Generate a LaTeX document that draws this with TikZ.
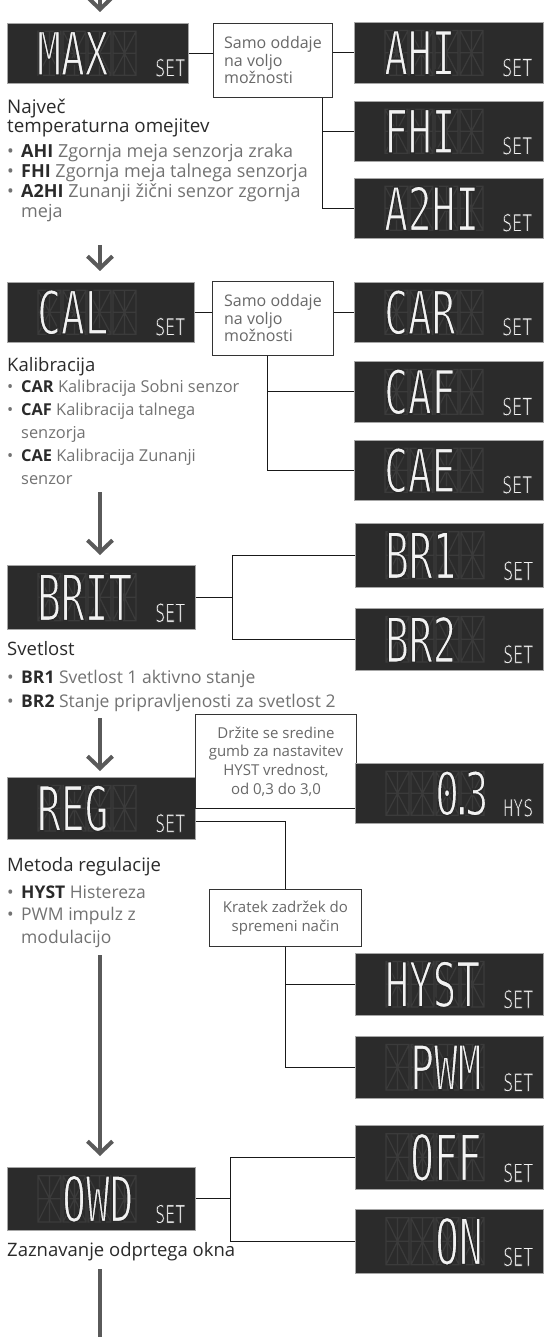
\documentclass[tikz,border=0pt]{standalone}
\usepackage{fontspec}
\setmainfont{Open Sans}
\newfontfamily\lcdfont{DejaVu Sans Mono}[FakeBold=2.8]
\usetikzlibrary{arrows.meta}

\definecolor{panel}{HTML}{2B2B2B}
\definecolor{ghostseg}{HTML}{3B3B3B}
\definecolor{segment}{HTML}{F2F2F2}
\definecolor{flowgray}{HTML}{5A5A5A}
\definecolor{headtext}{HTML}{2A2A2A}
\definecolor{bodytext}{HTML}{727272}
\definecolor{notetext}{HTML}{686868}

% thin the segments: stroke the glyph outlines in the panel colour
\newcommand{\thin}{\special{pdf:literal direct 0.169 0.169 0.169 RG}}

\tikzset{
  disp/.style={fill=panel, draw=gray!70, line width=0.6pt, inner sep=0},
  ghost/.style={draw=ghostseg, line width=1.2pt},
  lcd/.style={text=segment, inner sep=0, font=\lcdfont\fontsize{41.5}{41.5}\selectfont},
  lcdset/.style={text=segment, inner sep=0, font=\lcdfont\fontsize{16.6}{16.6}\selectfont},
  note/.style={draw=black!80, fill=white, text=notetext, inner sep=0, line width=0.9pt,
    anchor=north west, font=\fontsize{16}{17.5}\selectfont},
  link/.style={draw=black!90, line width=1.1pt},
  flow/.style={draw=flowgray, line width=4pt, -{Straight Barb[length=12pt,width=25pt]}},
  head/.style={text=headtext, inner sep=0, align=left, anchor=north west},
  desc/.style={text=bodytext, inner sep=0, align=left, anchor=north west},
}

\newcommand{\bul}{\makebox[14pt][l]{\textbullet}}
\newcommand{\ind}{\makebox[14pt]{}}
\newcommand{\code}[1]{\textbf{\color{headtext}#1}}

% name, left, top, width, height, first cell, text, label
\newcommand{\display}[8]{%
  \node[disp, minimum width=#4pt, minimum height=#5pt, anchor=north west] (#1) at (#2,#3) {};
  \begin{scope}[shift={(#1.west)}, yscale=#5/60, transform shape]
    \foreach \cell in {0,...,3} {
      \pgfmathsetmacro\gx{31+25*\cell}
      \draw[ghost] (\gx,-22) rectangle ++(23,44)
        (\gx,0) -- ++(23,0) (\gx+11.5,-22) -- ++(0,44)
        (\gx,-22) -- ++(23,44) (\gx+23,-22) -- ++(-23,44);
    }
    \node[lcd, xscale=0.95, yscale=1.45, anchor=west] (#1-txt) at ({5+25*#6},0) {\thin#7};
    \node[lcdset, yscale=1.45, anchor=west] (#1-set) at (148,14.5) {\thin#8};
  \end{scope}}

\begin{document}
\begin{tikzpicture}[x=1pt, y=-1pt]
\useasboundingbox (0,0) rectangle (544,1337);

% maximum limits
\coordinate (in) at (100,-30);
\display{max}{7}{23}{181}{60}{1}{MAX}{SET}
\draw[flow, shorten >=11pt] (in) -- (in |- max.north);
\node[note, align=left, minimum width=119pt, minimum height=74pt] (opt1) at (213,23)
  {Samo oddaje\\na voljo\\možnosti};
\display{ahi}{354}{22}{189}{61}{1}{AHI}{SET}
\display{fhi}{354}{101}{189}{60}{1}{FHI}{SET}
\display{a2hi}{354}{178}{189}{60}{1}{A2HI}{SET}
\draw[link] (max.east) -- (max.east -| opt1.west);
\draw[link] (opt1.east |- ahi.west) -- (ahi.west);
\draw[link] ([xshift=49.5pt]opt1.south) |- (fhi.west);
\draw[link] ([xshift=49.5pt]opt1.south) |- (a2hi.west);
\node[head, font=\fontsize{18.8}{17}\selectfont] (maxhead) at (7,98.7)
  {Največ\\temperaturna omejitev};
\node[desc, font=\fontsize{18}{20}\selectfont] (maxlist) at (7,143.3)
  {\bul\code{AHI} Zgornja meja senzorja zraka\\
   \bul\code{FHI} Zgornja meja talnega senzorja\\
   \bul\code{A2HI} Zunanji žični senzor zgornja\\
   \ind meja};

% calibration
\coordinate (a1) at (100,245);
\display{cal}{7}{282}{187}{60}{1}{CAL}{SET}
\draw[flow, shorten >=11pt] (a1) -- (a1 |- cal.north);
\node[note, align=left, minimum width=121pt, minimum height=74pt] (opt2) at (212,281)
  {Samo oddaje\\na voljo\\možnosti};
\display{car}{354}{282}{189}{60}{1}{CAR}{SET}
\display{caf}{354}{361}{189}{61}{1}{CAF}{SET}
\display{cae}{354}{440}{189}{60}{1}{CAE}{SET}
\draw[link] (cal.east) -- (cal.east -| opt2.west);
\draw[link] (opt2.east |- car.west) -- (car.west);
\draw[link] ([xshift=-5.5pt]opt2.south) |- (caf.west);
\draw[link] ([xshift=-5.5pt]opt2.south) |- (cae.west);
\node[head, font=\fontsize{18.5}{19}\selectfont] (calhead) at (7,356.9) {Kalibracija};
\node[desc, font=\fontsize{16.4}{23.2}\selectfont] (callist) at (7,379.5)
  {\bul\code{CAR} Kalibracija Sobni senzor\\
   \bul\code{CAF} Kalibracija talnega\\
   \ind senzorja\\
   \bul\code{CAE} Kalibracija Zunanji\\
   \ind senzor};

% brightness
\coordinate (a2) at (100,492);
\display{brit}{7}{565}{188}{64}{1}{BRIT}{SET}
\draw[flow, shorten >=10pt] (a2) -- (a2 |- brit.north);
\display{br1}{355}{523}{188}{64}{1}{BR1}{SET}
\display{br2}{355}{608}{188}{62}{1}{BR2}{SET}
\draw[link] (brit.east) -- ++(37,0) coordinate (brj) |- (br1.west);
\draw[link] (brj) |- (br2.west);
\node[head, font=\fontsize{18.5}{19}\selectfont] (brithead) at (7,640.9) {Svetlost};
\node[desc, font=\fontsize{17.5}{24}\selectfont] (britlist) at (7,669.7)
  {\bul\code{BR1} Svetlost 1 aktivno stanje\\
   \bul\code{BR2} Stanje pripravljenosti za svetlost 2};

% regulation
\coordinate (a3) at (100,718);
\display{reg}{7}{777}{188}{62}{1}{REG}{SET}
\draw[flow, shorten >=6pt] (a3) -- (a3 |- reg.north);
\node[note, align=center, minimum width=161pt, minimum height=94pt,
  font=\fontsize{15}{18.7}\selectfont] (hold) at (195,714)
  {Držite se sredine\\gumb za nastavitev\\HYST vrednost,\\od 0,3 do 3,0};
\display{val}{355}{763}{188}{60}{3}{0\kern-9.5pt.\kern-9.5pt3}{HYS}
\node[note, align=center, minimum width=152pt, minimum height=57pt,
  font=\fontsize{15}{19}\selectfont] (mode) at (209,889)
  {Kratek zadržek do\\spremeni način};
\display{hyst}{355}{953}{188}{62}{1}{HYST}{SET}
\display{pwm}{355}{1036}{188}{62}{2}{PWM}{SET}
\draw[link] (reg.east) -- (reg.east -| val.west);
\draw[link] ([yshift=-13pt]reg.east) -| (mode.north);
\draw[link] (mode.south) |- (hyst.west);
\draw[link] (mode.south) |- (pwm.west);
\node[head, font=\fontsize{18.5}{19}\selectfont] (reghead) at (7,856.9) {Metoda regulacije};
\node[desc, font=\fontsize{17.5}{22.2}\selectfont] (reglist) at (7,885.7)
  {\bul\code{HYST} Histereza\\
   \bul PWM impulz z\\
   \ind modulacijo};

% open window
\coordinate (a4) at (100,955);
\display{owd}{7}{1167}{188}{63}{2}{OWD}{SET}
\draw[flow, shorten >=11pt] (a4) -- (a4 |- owd.north);
\display{off}{355}{1125}{188}{64}{2}{OFF}{SET}
\display{on}{355}{1209}{188}{64}{3}{ON}{SET}
\draw[link] (owd.east) -- ++(35,0) coordinate (owj) |- (off.west);
\draw[link] (owj) |- (on.west);
\node[head, font=\fontsize{18.5}{19}\selectfont] (owdhead) at (7,1241.9) {Zaznavanje odprtega okna};
\coordinate (a5) at (100,1269);
\coordinate (out) at (100,1345);
\draw[flow, -] (a5) -- (out);
\end{tikzpicture}
\end{document}
